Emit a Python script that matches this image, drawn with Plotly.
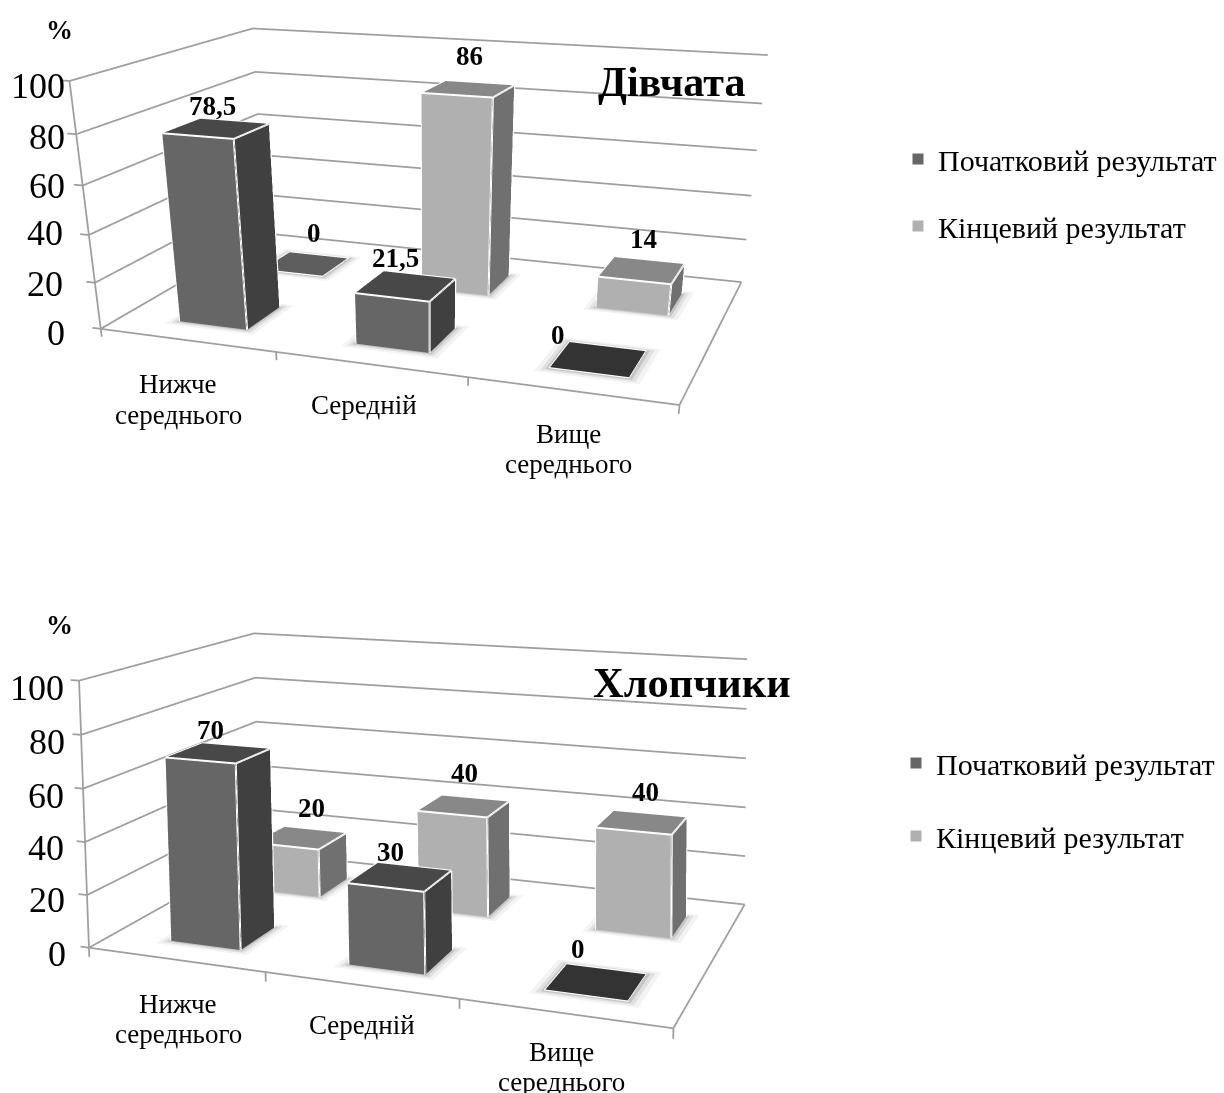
import plotly.graph_objects as go

W, H = 1224, 1093

categories = ["Нижче<br>середнього", "Середній", "Вище<br>середнього"]
series_names = ["Початковий результат", "Кінцевий результат"]
percent_ticks = [0, 20, 40, 60, 80, 100]
girls_start = [78.5, 21.5, 0]
girls_end = [0, 86, 14]
boys_start = [70, 30, 0]
boys_end = [20, 40, 40]

FONT = "Liberation Serif"
GRID = "#9e9e9e"
COLORS = [dict(front="#666666", top="#484848", side="#404040", flat="#333333"),
          dict(front="#b0b0b0", top="#888888", side="#707070", flat="#5e5e5e")]
FLAT_LIGHT = dict(ambient=1, diffuse=0, specular=0, fresnel=0)
X_PAD, Y_PAD, Z_PAD = 0.1, 0.1, 10
X_MAX, Y_MAX, Z_MAX = 3, 2, 100
BAR_BACK, BAR_FRONT = 0.15, 0.25

# Per-chart offsets of texts from their anchors, in pixels.
GIRLS_STYLE = dict(
    bar_x=(0.17, 0.22),
    tick_shift=[(-34, -4), (-30, -1), (-24, 2), (-16, 0), (-9, -3), (-2, -5)],
    cat_shift=[(-8, -59.5), (-6, -41), (-3, -58)],
    label_shift=[[(-4, 20), (-9, 25), (-38, 21)], [(9, 29), (2, 31), (4, 28)]],
)
BOYS_STYLE = dict(
    bar_x=(0.16, 0.24),
    tick_shift=[(-21, -6), (-20, -5), (-19, -6), (-17, -7), (-14, -7), (-13, -7)],
    cat_shift=[(3, -59.5), (2, -40), (-2, -54)],
    label_shift=[[(-6, 21), (-6, 22), (-13, 29)], [(13, 27), (5, 31), (9, 28)]],
)


def box(x0, x1, y0, y1, h, cols):
    zt = max(h, 0.15)
    xs = [x0, x1, x1, x0, x0, x1, x1, x0]
    ys = [y0, y0, y1, y1, y0, y0, y1, y1]
    zs = [0, 0, 0, 0, zt, zt, zt, zt]
    i = [0, 0, 1, 1, 3, 3, 0, 0, 4, 4]
    j = [1, 5, 2, 6, 0, 4, 3, 2, 5, 6]
    k = [5, 4, 6, 5, 4, 7, 2, 1, 6, 7]
    top = cols["top"] if h > 0 else cols["flat"]
    fc = [cols["front"]] * 2 + [cols["side"]] * 2 + [cols["side"]] * 2 + [top] * 2 + [top] * 2
    return xs, ys, zs, i, j, k, fc


def add_frame(fig, scene):
    fx, fy, fz = [], [], []
    for z in percent_ticks:
        fx += [0, 0, X_MAX, None]; fy += [0, Y_MAX, Y_MAX, None]; fz += [z, z, z, None]
        fx += [0, -0.05, None]; fy += [0, 0, None]; fz += [z, z, None]
    fx += [0, 0, None, 0, X_MAX, X_MAX, None]
    fy += [0, 0, None, 0, 0, Y_MAX, None]
    fz += [0, Z_MAX, None, 0, 0, 0, None]
    for x in range(X_MAX + 1):
        fx += [x, x, None]; fy += [0, 0, None]; fz += [0, -3.5, None]
    fig.add_trace(go.Scatter3d(x=fx, y=fy, z=fz, mode="lines", line=dict(color=GRID, width=3.5),
                               scene=scene, hoverinfo="skip", showlegend=False))


def add_chart(fig, values, scene, legend, style):
    add_frame(fig, scene)
    left, right = style["bar_x"]
    for s, vals in enumerate(values):
        yc = s + 0.5
        ex, ey, ez = [], [], []
        for c, h in enumerate(vals):
            x0, x1 = c + 0.5 - left, c + 0.5 + right
            y0, y1 = yc - BAR_FRONT, yc + BAR_BACK
            for grow, col, zz in [(0.06, "#f3f3f3", 0.03), (0.035, "#e0e0e0", 0.06), (0.015, "#c4c4c4", 0.09)]:
                a, b, d, e = x0 - grow, x1 + grow, y0 - grow, y1 + grow
                fig.add_trace(go.Mesh3d(x=[a, b, b, a], y=[d, d, e, e], z=[zz] * 4, i=[0, 0], j=[1, 2], k=[2, 3],
                                        color=col, flatshading=True, hoverinfo="skip", scene=scene,
                                        lighting=FLAT_LIGHT))
            xs, ys, zs, i, j, k, fc = box(x0, x1, y0, y1, h, COLORS[s])
            fig.add_trace(go.Mesh3d(x=xs, y=ys, z=zs, i=i, j=j, k=k, facecolor=fc, flatshading=True,
                                    scene=scene, hoverinfo="skip", lighting=FLAT_LIGHT))
            for a, b in [(0, 1), (1, 2), (2, 3), (3, 0), (4, 5), (5, 6), (6, 7), (7, 4), (0, 4), (1, 5), (2, 6), (3, 7)]:
                ex += [xs[a], xs[b], None]; ey += [ys[a], ys[b], None]; ez += [zs[a], zs[b], None]
        fig.add_trace(go.Scatter3d(x=ex, y=ey, z=ez, mode="lines", line=dict(color="white", width=4),
                                   scene=scene, hoverinfo="skip", showlegend=False))
        fig.add_trace(go.Scatter3d(x=[None], y=[None], z=[None], mode="markers", name=series_names[s],
                                   marker=dict(symbol="square", size=11, color=COLORS[s]["front"]),
                                   scene=scene, legend=legend, legendgroup=f"{legend}{s}", showlegend=True))


def scene_layout(domain_x, aspect, eye, center, values, style):
    ann = []
    for z, (dx, dy) in zip(percent_ticks, style["tick_shift"]):
        ann.append(dict(x=0, y=0, z=z, text=str(z), showarrow=False, xanchor="right", xshift=dx, yshift=dy,
                        font=dict(family=FONT, size=36, color="black")))
    for s, vals in enumerate(values):
        for c, v in enumerate(vals):
            dx, dy = style["label_shift"][s][c]
            ann.append(dict(x=c + 0.5, y=s + 0.5, z=v, text=f"<b>{str(v).replace('.', ',')}</b>", showarrow=False,
                            xshift=dx, yshift=dy, font=dict(family=FONT, size=27, color="black")))
    for c, t in enumerate(categories):
        dx, dy = style["cat_shift"][c]
        lines = t.split("<br>")
        for n, line in enumerate(lines):
            ann.append(dict(x=c + 0.5, y=0, z=0, text=line, showarrow=False, xshift=dx,
                            yshift=dy - 30.5 * (n - (len(lines) - 1) / 2),
                            font=dict(family=FONT, size=27, color="black")))
    ax, ay, az = aspect
    return dict(
        domain=dict(x=domain_x, y=[0, 1]),
        aspectmode="manual",
        aspectratio=dict(x=ax * (X_MAX + 2 * X_PAD) / X_MAX, y=ay * (Y_MAX + 2 * Y_PAD) / Y_MAX,
                         z=az * (Z_MAX + 2 * Z_PAD) / Z_MAX),
        camera=dict(eye=dict(x=eye[0], y=eye[1], z=eye[2]), center=dict(x=center[0], y=center[1], z=center[2]),
                    up=dict(x=0, y=0, z=1), projection=dict(type="perspective")),
        xaxis=dict(range=[-X_PAD, X_MAX + X_PAD], visible=False),
        yaxis=dict(range=[-Y_PAD, Y_MAX + Y_PAD], visible=False),
        zaxis=dict(range=[-Z_PAD, Z_MAX + Z_PAD], visible=False),
        annotations=ann)


fig = go.Figure()
girls = [girls_start, girls_end]
boys = [boys_start, boys_end]
add_chart(fig, girls, "scene", "legend", GIRLS_STYLE)
add_chart(fig, boys, "scene2", "legend2", BOYS_STYLE)


def legend(left, top, gap):
    return dict(x=left / W, y=1 - top / H, xanchor="left", yanchor="top", bgcolor="rgba(0,0,0,0)",
                font=dict(family=FONT, size=30, color="black"), tracegroupgap=gap, itemsizing="trace")


def text_note(x, y, text, size):
    return dict(x=x / W, y=1 - y / H, xref="paper", yref="paper", text=f"<b>{text}</b>", showarrow=False,
                xanchor="center", yanchor="middle", font=dict(family=FONT, size=size, color="black"))


fig.update_layout(
    width=W, height=H, margin=dict(l=0, r=0, t=0, b=0), paper_bgcolor="white", showlegend=True,
    scene=scene_layout([0, 862 / W], (1, 0.64, 0.408), (0.771, -2.171, 0.561), (0.088, -0.274, -0.546), girls, GIRLS_STYLE),
    scene2=scene_layout([0, 1], (1, 0.516, 0.449), (0.953, -2.028, 0.636), (0.807, -1.554, 0.591), boys, BOYS_STYLE),
    legend=legend(898, 133, 25), legend2=legend(896, 737, 31),
    annotations=[text_note(59, 30, "%", 27), text_note(59, 625, "%", 27),
                 text_note(671, 82, "Дівчата", 42), text_note(691.5, 682, "Хлопчики", 42.5)])
fig.write_html("out.html")
